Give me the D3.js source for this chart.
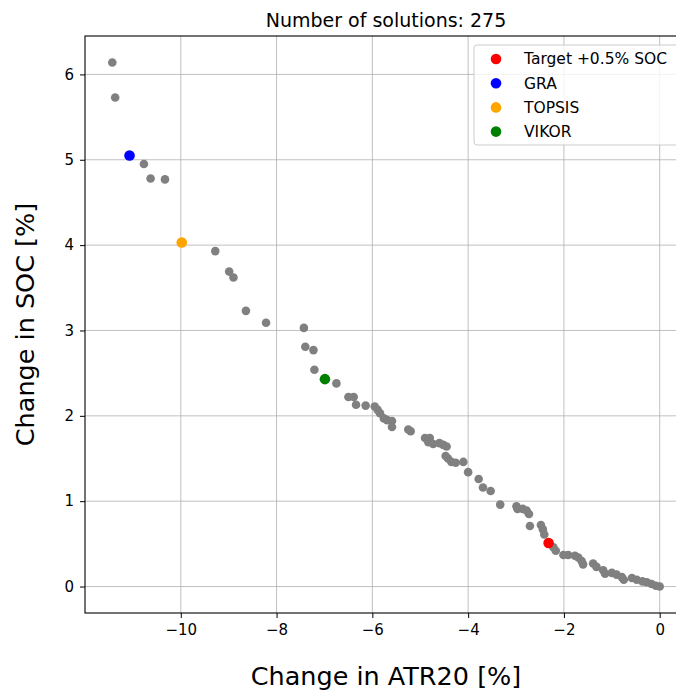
<!DOCTYPE html>
<html>
<head>
<meta charset="utf-8">
<script src="https://cdn.jsdelivr.net/npm/d3@7"></script>
<style>
  body { margin: 0; background: #fff; }
  svg { display: block; font-family: "DejaVu Sans", sans-serif; }
</style>
</head>
<body>
<svg id="chart" width="676" height="690"></svg>
<script>
// solutions (grey)
const atr = [-11.43, -11.37, -10.77, -10.63, -10.33, -9.28, -8.99, -8.90, -8.64, -8.22,
  -7.43, -7.40, -7.23, -7.21, -6.75, -6.50, -6.39, -6.34, -6.14, -5.95,
  -5.89, -5.84, -5.76, -5.69, -5.59, -5.59, -5.25, -5.20, -4.90, -4.80,
  -4.83, -4.73, -4.60, -4.52, -4.45, -4.47, -4.42, -4.35, -4.26, -4.10,
  -4.00, -3.78, -3.69, -3.53, -3.33, -2.99, -2.97, -2.86, -2.78, -2.73,
  -2.71, -2.48, -2.44, -2.41, -2.22, -2.17, -2.01, -1.91, -1.77, -1.70,
  -1.63, -1.60, -1.39, -1.32, -1.18, -1.14, -1.00, -0.90, -0.79, -0.75,
  -0.58, -0.48, -0.36, -0.27, -0.17, -0.08, 0.00];
const soc = [6.14, 5.73, 4.95, 4.78, 4.77, 3.93, 3.69, 3.62, 3.23, 3.09,
  3.03, 2.81, 2.77, 2.54, 2.38, 2.22, 2.22, 2.13, 2.12, 2.11,
  2.07, 2.03, 1.97, 1.95, 1.94, 1.87, 1.84, 1.82, 1.74, 1.74,
  1.69, 1.67, 1.68, 1.66, 1.64, 1.53, 1.50, 1.46, 1.45, 1.46,
  1.34, 1.26, 1.16, 1.12, 0.96, 0.94, 0.91, 0.91, 0.89, 0.85,
  0.71, 0.72, 0.67, 0.61, 0.46, 0.42, 0.37, 0.37, 0.36, 0.34,
  0.30, 0.26, 0.27, 0.23, 0.19, 0.15, 0.16, 0.14, 0.11, 0.08,
  0.10, 0.08, 0.06, 0.05, 0.03, 0.01, 0.00];

// highlighted picks
const picks = ['Target +0.5% SOC', 'GRA', 'TOPSIS', 'VIKOR'];
const pickAtr = [-2.32, -11.07, -9.98, -6.99];
const pickSoc = [0.51, 5.05, 4.03, 2.43];
const pickColors = ['red', 'blue', 'orange', 'green'];

const xTicks = [-10, -8, -6, -4, -2, 0];
const yTicks = [0, 1, 2, 3, 4, 5, 6];
const nSolutions = 275;

const svg = d3.select('#chart');
const box = {left: 85, top: 36, right: 687, bottom: 613};

const x = d3.scaleLinear().domain([-12.0, 0.57]).range([box.left, box.right]);
const y = d3.scaleLinear().domain([-0.31, 6.45]).range([box.bottom, box.top]);

// grid
const grid = svg.append('g');
grid.selectAll('.gx').data(xTicks).join('line')
  .attr('x1', d => x(d)).attr('x2', d => x(d)).attr('y1', box.top).attr('y2', box.bottom)
  .attr('stroke', '#b0b0b0').attr('stroke-width', 0.8);
grid.selectAll('.gy').data(yTicks).join('line').attr('class', 'gy')
  .attr('x1', box.left).attr('x2', box.right).attr('y1', d => y(d)).attr('y2', d => y(d))
  .attr('stroke', '#b0b0b0').attr('stroke-width', 0.8);

// axes
const fmt = d => d < 0 ? '\u2212' + Math.abs(d) : String(d);
const xAxis = svg.append('g').attr('transform', `translate(0,${box.bottom})`)
  .call(d3.axisBottom(x).tickValues(xTicks).tickFormat(fmt).tickSize(5).tickPadding(6));
const yAxis = svg.append('g').attr('transform', `translate(${box.left},0)`)
  .call(d3.axisLeft(y).tickValues(yTicks).tickFormat(fmt).tickSize(5).tickPadding(6));
[xAxis, yAxis].forEach(a => {
  a.select('.domain').remove();
  a.selectAll('text').style('font-size', '15px').attr('fill', '#000').style('font-family', '"DejaVu Sans", sans-serif');
  a.selectAll('line').attr('stroke', '#000').attr('stroke-width', 1);
});

// points
svg.append('g').selectAll('circle').data(atr.map((d, i) => [d, soc[i]])).join('circle')
  .attr('cx', d => x(d[0])).attr('cy', d => y(d[1])).attr('r', 4.3).attr('fill', '#808080');
svg.append('g').selectAll('circle').data(picks).join('circle')
  .attr('cx', (d, i) => x(pickAtr[i])).attr('cy', (d, i) => y(pickSoc[i])).attr('r', 5.3)
  .attr('fill', (d, i) => pickColors[i]);

// frame
svg.append('rect').attr('x', box.left).attr('y', box.top)
  .attr('width', box.right - box.left).attr('height', box.bottom - box.top)
  .attr('fill', 'none').attr('stroke', '#000').attr('stroke-width', 1.1);

// legend
const leg = svg.append('g').attr('transform', 'translate(474,45)');
leg.append('rect').attr('width', 206).attr('height', 100).attr('rx', 3)
  .attr('fill', 'rgba(255,255,255,0.8)').attr('stroke', '#cccccc').attr('stroke-width', 1);
const rows = leg.selectAll('g.row').data(picks).join('g').attr('class', 'row')
  .attr('transform', (d, i) => `translate(0,${14 + i * 24.2})`);
rows.append('circle').attr('cx', 22).attr('cy', 0).attr('r', 5.3).attr('fill', (d, i) => pickColors[i]);
rows.append('text').attr('x', 50).attr('y', 0).attr('dy', '0.35em')
  .style('font-size', '15.5px').text(d => d);

// titles
svg.append('text').attr('x', 386).attr('y', 27).attr('text-anchor', 'middle')
  .style('font-size', '19px').text(`Number of solutions: ${nSolutions}`);
svg.append('text').attr('x', 386).attr('y', 685).attr('text-anchor', 'middle')
  .style('font-size', '25.5px').text('Change in ATR20 [%]');
svg.append('text').attr('transform', `translate(34,${(box.top + box.bottom) / 2}) rotate(-90)`)
  .attr('text-anchor', 'middle').style('font-size', '25.5px').text('Change in SOC [%]');
</script>
</body>
</html>
